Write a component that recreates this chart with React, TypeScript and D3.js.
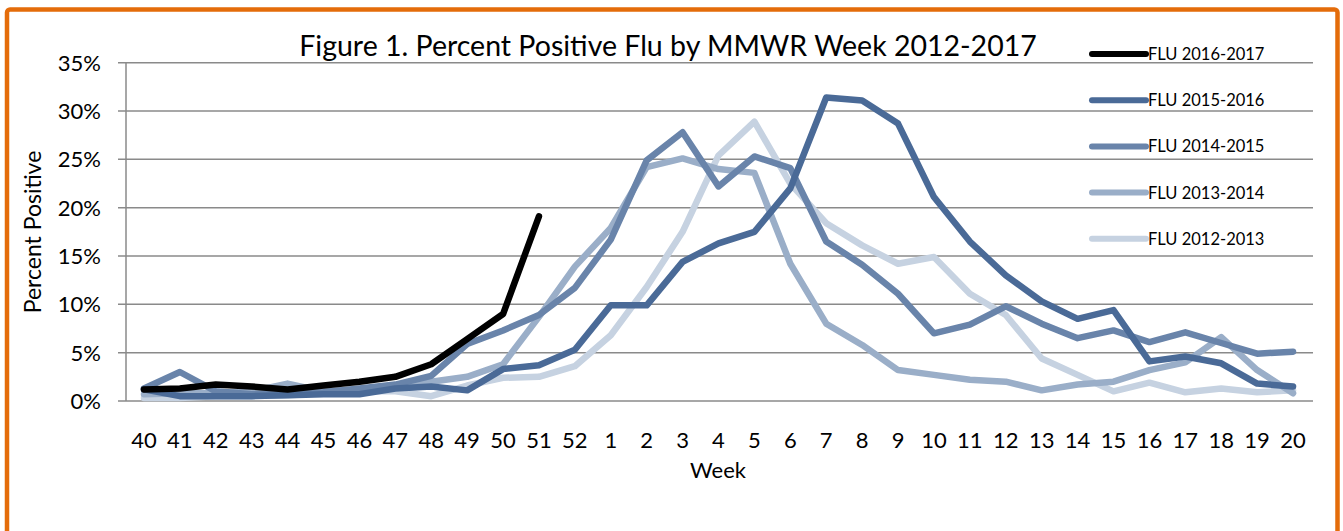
import * as d3 from 'd3';
import { useEffect, useRef } from 'react';

const weeks = [
  '40', '41', '42', '43', '44', '45', '46', '47', '48', '49', '50', '51', '52',
  '1', '2', '3', '4', '5', '6', '7', '8', '9', '10', '11', '12', '13', '14',
  '15', '16', '17', '18', '19', '20',
];

const flu2012 = [
  0.3, 0.3, 0.5, 0.5, 0.6, 0.8, 1.0, 1.0, 0.5, 1.6, 2.4, 2.5, 3.6, 6.8, 11.8,
  17.5, 25.4, 28.9, 22.5, 18.4, 16.1, 14.2, 14.9, 11.1, 8.9, 4.4, 2.7, 1.0,
  1.9, 0.9, 1.3, 0.9, 1.1,
];
const flu2013 = [
  0.7, 0.8, 0.8, 1.0, 1.8, 1.0, 1.2, 1.5, 2.0, 2.5, 3.8, 8.7, 13.9, 17.9,
  24.2, 25.1, 24.0, 23.6, 14.2, 8.0, 5.8, 3.2, 2.7, 2.2, 2.0, 1.1, 1.7, 2.0,
  3.2, 4.0, 6.6, 3.2, 0.8,
];
const flu2014 = [
  1.3, 3.0, 1.0, 0.7, 0.8, 0.9, 1.3, 1.7, 2.6, 5.9, 7.3, 8.9, 11.7, 16.7,
  24.9, 27.8, 22.2, 25.3, 24.1, 16.5, 14.1, 11.1, 7.0, 7.9, 9.8, 8.0, 6.5,
  7.3, 6.1, 7.1, 6.0, 4.9, 5.1,
];
const flu2015 = [
  1.2, 0.5, 0.5, 0.5, 0.6, 0.7, 0.7, 1.3, 1.5, 1.1, 3.3, 3.7, 5.3, 9.9, 9.9,
  14.4, 16.3, 17.5, 22.0, 31.4, 31.1, 28.7, 21.1, 16.5, 13.0, 10.3, 8.5, 9.4,
  4.1, 4.6, 3.9, 1.8, 1.5,
];
const flu2016 = [1.2, 1.3, 1.7, 1.5, 1.2, 1.6, 2.0, 2.5, 3.8, 6.4, 9.0, 19.1];

const series = [
  { name: 'FLU 2012-2013', values: flu2012, color: '#c6d2e1' },
  { name: 'FLU 2013-2014', values: flu2013, color: '#9aaec8' },
  { name: 'FLU 2014-2015', values: flu2014, color: '#6984aa' },
  { name: 'FLU 2015-2016', values: flu2015, color: '#4a6a97' },
  { name: 'FLU 2016-2017', values: flu2016, color: '#000000' },
];

const yTicks = [0, 5, 10, 15, 20, 25, 30, 35];

const dimensions = {
  width: 1343,
  height: 531,
  left: 126,
  right: 1311,
  top: 62.7,
  bottom: 401,
};

const font = 'Lato, "Open Sans", sans-serif';

export default function App() {
  const svgRef = useRef(null);

  useEffect(() => {
    const svg = d3.select(svgRef.current);
    svg.selectAll('*').remove();

    const xScale = d3
      .scalePoint()
      .domain(weeks)
      .range([dimensions.left, dimensions.right])
      .padding(0.5);

    const yScale = d3
      .scaleLinear()
      .domain([0, 35])
      .range([dimensions.bottom, dimensions.top]);

    // orange frame
    svg
      .append('rect')
      .attr('x', 7)
      .attr('y', 9.5)
      .attr('width', 1330.5)
      .attr('height', 560)
      .attr('rx', 3)
      .style('fill', 'white')
      .style('stroke', '#e46c0a')
      .style('stroke-width', 4.5);

    // gridlines + y ticks
    svg
      .append('g')
      .selectAll('line')
      .data(yTicks)
      .enter()
      .append('line')
      .attr('x1', dimensions.left - 8)
      .attr('x2', dimensions.right + 2)
      .attr('y1', (d) => yScale(d))
      .attr('y2', (d) => yScale(d))
      .style('stroke', '#8a8a8a')
      .style('stroke-width', 1.5);

    svg
      .append('line')
      .attr('x1', dimensions.left)
      .attr('x2', dimensions.left)
      .attr('y1', dimensions.top)
      .attr('y2', dimensions.bottom)
      .style('stroke', '#8a8a8a')
      .style('stroke-width', 1.5);

    svg
      .append('g')
      .selectAll('text')
      .data(yTicks)
      .enter()
      .append('text')
      .attr('x', 101)
      .attr('y', (d) => yScale(d) + 8)
      .attr('text-anchor', 'end')
      .style('font-family', font)
      .style('font-size', '22px')
      .text((d) => d + '%');

    svg
      .append('g')
      .selectAll('text')
      .data(weeks)
      .enter()
      .append('text')
      .attr('x', (d) => xScale(d) as number)
      .attr('y', 448)
      .attr('text-anchor', 'middle')
      .style('font-family', font)
      .style('font-size', '22px')
      .text((d) => d);

    // title
    svg
      .append('text')
      .attr('x', 668)
      .attr('y', 56)
      .attr('text-anchor', 'middle')
      .style('font-family', font)
      .style('font-size', '28.5px')
      .text('Figure 1. Percent Positive Flu by MMWR Week 2012-2017');

    // axis labels
    svg
      .append('text')
      .attr('x', 718)
      .attr('y', 478)
      .attr('text-anchor', 'middle')
      .style('font-family', font)
      .style('font-size', '22px')
      .text('Week');

    svg
      .append('text')
      .attr('text-anchor', 'middle')
      .attr('transform', 'translate(41,232)rotate(-90)')
      .style('font-family', font)
      .style('font-size', '23px')
      .text('Percent Positive');

    const line = d3
      .line<number>()
      .x((d, i) => xScale(weeks[i]) as number)
      .y((d) => yScale(d));

    svg
      .append('g')
      .selectAll('path')
      .data(series)
      .enter()
      .append('path')
      .attr('d', (d) => line(d.values))
      .style('fill', 'none')
      .style('stroke', (d) => d.color)
      .style('stroke-width', 6.5)
      .style('stroke-linejoin', 'round')
      .style('stroke-linecap', 'round');

    // legend
    const legend = svg
      .append('g')
      .selectAll('g')
      .data(series.slice().reverse())
      .enter()
      .append('g')
      .attr('transform', (d, i) => 'translate(1092,' + (54 + i * 46.2) + ')');

    legend
      .append('line')
      .attr('x1', 0)
      .attr('x2', 54)
      .style('stroke', (d) => d.color)
      .style('stroke-width', 6)
      .style('stroke-linecap', 'round');

    legend
      .append('text')
      .attr('x', 56)
      .attr('y', 6)
      .style('font-family', font)
      .style('font-size', '16.5px')
      .text((d) => d.name);
  }, []);

  return (
    <div>
      <svg
        ref={svgRef}
        width={dimensions.width}
        height={dimensions.height}
        style={{ position: 'absolute', left: 0, top: 0 }}
      ></svg>
    </div>
  );
}
